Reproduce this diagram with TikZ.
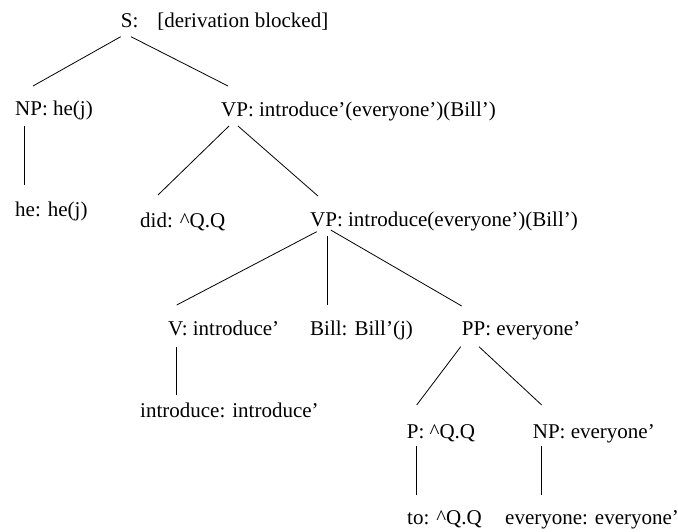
\documentclass[tikz,border=0pt]{standalone}
\usepackage{fontspec}
\setmainfont{Liberation Serif}
\usetikzlibrary{calc}
\begin{document}
\begin{tikzpicture}[x=1pt,y=-1pt,
  lab/.style={anchor=base west,inner sep=0pt,font=\fontsize{21}{24}\selectfont},
  edge/.style={line width=0.8pt}]
\useasboundingbox (0,0) rectangle (678,531);
% nodes of the tree (placed by their baselines)
\node[lab] (S) at (120.7,27) {S:\hspace{19pt}[derivation blocked]};
\node[lab] (NP) at (15,115) {NP: he(j)};
\node[lab] (VP) at (221,116) {VP: introduce'(everyone')(Bill')};
\node[lab] (he) at (15,216) {he: he(j)};
\node[lab] (did) at (140,227) {did: \^{}Q.Q};
\node[lab] (VPb) at (310,226) {VP: introduce(everyone')(Bill')};
\node[lab] (V) at (168,335) {V: introduce'};
\node[lab] (Bill) at (310,335) {Bill: Bill'(j)};
\node[lab] (PP) at (461.7,335) {PP: everyone'};
\node[lab] (intro) at (140,417) {introduce: introduce'};
\node[lab] (P) at (406.7,438) {P: \^{}Q.Q};
\node[lab] (NPb) at (532.7,438) {NP: everyone'};
\node[lab] (to) at (407,524) {to: \^{}Q.Q};
\node[lab] (every) at (505,524) {everyone: everyone'};
% branches
\draw[edge] ($(S.base west)+(0,9.7)$) -- ($(NP.base west)+(18,-29)$);
\draw[edge] ($(S.base west)+(10.3,9.7)$) -- ($(VP.base west)+(7,-30)$);
\draw[edge] ($(NP.base west)+(9,11)$) -- ($(he.base west)+(9,-31)$);
\draw[edge] ($(VP.base west)+(8,10)$) -- ($(did.base west)+(18,-32)$);
\draw[edge] ($(VP.base west)+(17,10)$) -- ($(VPb.base west)+(8,-30)$);
\draw[edge] ($(VPb.base west)+(6.7,5.7)$) -- ($(V.base west)+(8.7,-30)$);
\draw[edge] ($(VPb.base west)+(17,10)$) -- ($(Bill.base west)+(17,-30)$);
\draw[edge] ($(VPb.base west)+(20.7,4)$) -- ($(PP.base west)+(0,-29)$);
\draw[edge] ($(V.base west)+(8,11.7)$) -- ($(intro.base west)+(36,-22)$);
\draw[edge] ($(PP.base west)+(-1,11.7)$) -- ($(P.base west)+(10,-33)$);
\draw[edge] ($(PP.base west)+(17.3,11.7)$) -- ($(NPb.base west)+(9,-33)$);
\draw[edge] ($(P.base west)+(10,8)$) -- ($(to.base west)+(9.7,-29)$);
\draw[edge] ($(NPb.base west)+(9,8)$) -- ($(every.base west)+(36.7,-29)$);
\end{tikzpicture}
\end{document}
